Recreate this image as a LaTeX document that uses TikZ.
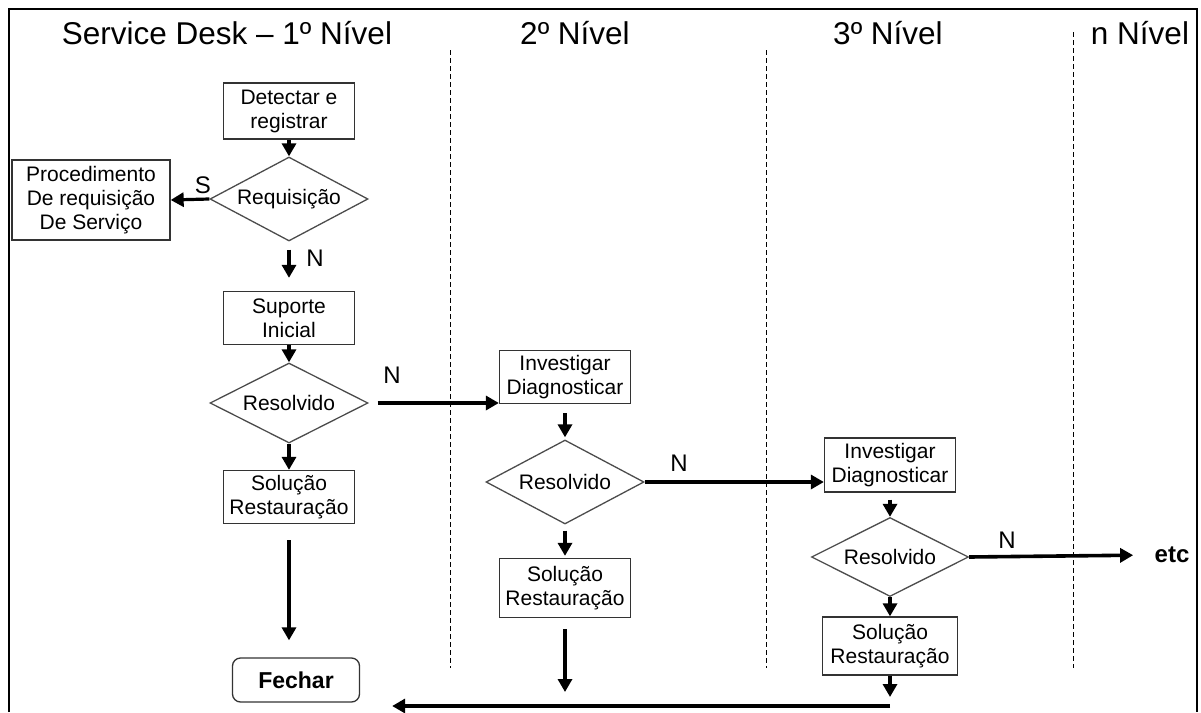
\documentclass[tikz,border=0pt]{standalone}
\usepackage{fontspec}
\setmainfont{Liberation Sans}
\usetikzlibrary{shapes.geometric,arrows.meta}

\begin{document}
\begin{tikzpicture}[x=1pt,y=-1pt]
% size of the boxes
\def\bw{131pt}
\def\bh{56pt}
% node style definition
\tikzstyle{block} = [
	draw=black!80, line width=1.3pt, rectangle, align=center,
	minimum width=\bw, minimum height=\bh, inner sep=2pt,
	font=\fontsize{21}{24}\selectfont ];
\tikzstyle{decision} = [
	draw=black!70, line width=1.3pt, diamond, aspect=2, inner sep=0pt,
	minimum width=158pt, minimum height=84pt,
	font=\fontsize{21}{24}\selectfont ];
\tikzstyle{plain} = [draw=none,fill=none];
\tikzstyle{title} = [plain, anchor=base, font=\fontsize{31.5}{35}\selectfont];
\tikzstyle{lbl} = [plain, font=\fontsize{24}{28}\selectfont];
\tikzstyle{flow} = [line width=3.2pt, -{Triangle[length=13pt,width=14pt]}];
\tikzstyle{lane} = [line width=0.9pt, dash pattern=on 5pt off 3pt];

\useasboundingbox (0,0) rectangle (1201,712);
% frame
\draw[line width=2pt] (9,712) -- (9,9) -- (1197,9) -- (1197,712);

% levels
\node[title] (h1) at (227,44) {Service Desk – 1º Nível};
\node[title] (h2) at (575,44) {2º Nível};
\node[title] (h3) at (888,44) {3º Nível};
\node[title] (hn) at (1140,44) {n Nível};

\draw[lane] (450,50) -- (450,668);
\draw[lane] (766,50) -- (766,668);
\draw[lane] (1073,32) -- (1073,668);

% 1st level
\node[block] (det) at (289,111) {Detectar e\\registrar};
\node[decision] (req) at (289,199) {Requisição};
\node[block, minimum width=158pt, minimum height=80pt] (proc) at (91,200)
	{Procedimento\\De requisição\\De Serviço};
\node[block, minimum height=53pt] (sup) at (289,318) {Suporte\\Inicial};
\node[decision, minimum height=80pt] (res1) at (289,403) {Resolvido};
\node[block, minimum height=53pt] (sol1) at (289,497) {Solução\\Restauração};
\node[block, rounded corners=8pt, minimum width=127pt, minimum height=44pt,
	font=\fontsize{23}{26}\selectfont\bfseries] (fechar) at (296,680) {Fechar};

% 2nd level
\node[block, minimum height=53pt] (inv2) at (565,377) {Investigar\\Diagnosticar};
\node[decision] (res2) at (565,482) {Resolvido};
\node[block, minimum height=59pt] (sol2) at (565,588) {Solução\\Restauração};

% 3rd level
\node[block, minimum height=54pt] (inv3) at (890,465) {Investigar\\Diagnosticar};
\node[decision, minimum width=157pt, minimum height=79pt] (res3) at (890,557) {Resolvido};
\node[block, minimum width=135pt, minimum height=58pt] (sol3) at (890,646) {Solução\\Restauração};
\node[plain, font=\fontsize{24}{28}\selectfont\bfseries] (etc) at (1172,555) {etc};

% answers
\node[lbl] (s1) at (203,185) {S};
\node[lbl] (n1) at (315,258) {N};
\node[lbl] (n2) at (392,375) {N};
\node[lbl] (n3) at (679,463) {N};
\node[lbl] (n4) at (1007,540) {N};

% connectors
\draw[flow] (det.south) -- (req.north);
\draw[flow] (req.west) -- (proc.east);
\draw[flow, shorten <=8pt, shorten >=13pt] (req.south) -- (sup.north);
\draw[flow] (sup.south) -- (res1.north);
\draw[flow] (res1.south) -- (sol1.north);
\draw[flow, shorten <=16pt, shorten >=17pt] (sol1.south) -- (sol1.south |- fechar.north);
\draw[flow, line width=3.6pt, shorten <=9pt] (res1.east) -- (res1.east -| inv2.west);

\draw[flow, shorten <=9pt, shorten >=2pt] (inv2.south) -- (res2.north);
\draw[flow, shorten <=6pt, shorten >=2pt] (res2.south) -- (sol2.north);
\draw[flow, line width=3.6pt] (res2.east) -- (res2.east -| inv3.west);

\draw[flow, shorten <=7pt] (inv3.south) -- (res3.north);
\draw[flow] (res3.south) -- (sol3.north);
\draw[flow, line width=3.6pt, shorten >=18pt] (res3.east) -- (etc.west);

% back to close
\coordinate (join) at (890,706);
\draw[flow, shorten >=9pt] (sol3.south) -- (join);
\draw[flow, shorten <=11pt, shorten >=14pt] (sol2.south) -- (sol2.south |- join);
\draw[flow, line width=3.6pt, shorten >=32pt] (join) -- (join -| fechar.east);
\end{tikzpicture}
\end{document}
